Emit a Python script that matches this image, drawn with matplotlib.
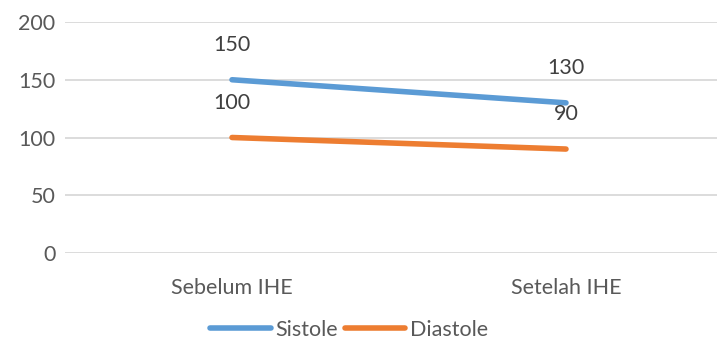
import numpy as np
import matplotlib.pyplot as plt

categories = ["Sebelum IHE", "Setelah IHE"]
sistole = [150, 130]
diastole = [100, 90]
yticks = [0, 50, 100, 150, 200]

plt.rcParams["font.family"] = ["Lato", "DejaVu Sans"]
fs = 15.5

fig = plt.figure(figsize=(7.17, 3.42), dpi=100)
# plot area runs past the right edge, like the cropped original
ax = fig.add_axes([65 / 717, 89 / 342, 668 / 717, 231 / 342])

x = np.arange(len(categories))
ax.plot(x, sistole, color="#5B9BD5", lw=4, solid_capstyle="round", label="Sistole")
ax.plot(x, diastole, color="#ED7D31", lw=4, solid_capstyle="round", label="Diastole")

for series in (sistole, diastole):
    for xi, v in zip(x, series):
        ax.annotate(str(v), (xi, v), xytext=(0, 25), textcoords="offset points",
                    ha="center", va="center", fontsize=fs, color="#404040")

ax.set_xlim(-0.5, 1.5)
ax.set_ylim(0, 200)
ax.set_yticks(yticks)
ax.set_xticks(x, categories)
ax.grid(axis="y", color="#D9D9D9", lw=1.3)
ax.set_axisbelow(True)
for s in ax.spines.values():
    s.set_visible(False)
ax.tick_params(length=0, labelsize=fs, labelcolor="#595959")
ax.tick_params(axis="y", pad=7)
ax.tick_params(axis="x", pad=18)

fig.legend(loc="center", bbox_to_anchor=(349 / 717, 1 - 330 / 342), ncol=2,
           frameon=False, fontsize=fs, labelcolor="#595959",
           handlelength=2.8, handletextpad=0.2, columnspacing=0.35,
           borderaxespad=0, borderpad=0.1)

fig.savefig("out.png", dpi=100)
